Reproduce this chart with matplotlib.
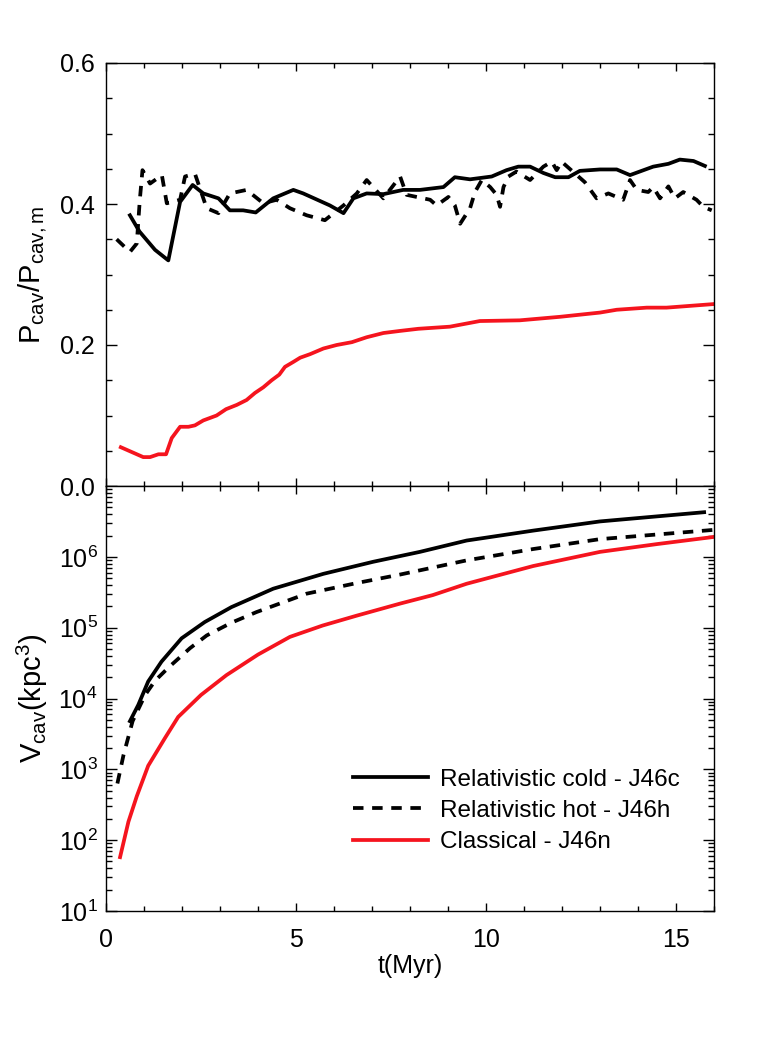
import numpy as np
import matplotlib
matplotlib.use("Agg")
import matplotlib.pyplot as plt
from matplotlib.ticker import MultipleLocator, LogLocator, NullFormatter, FixedLocator

plt.rcParams['font.family'] = ['Liberation Sans', 'DejaVu Sans']
plt.rcParams['mathtext.fontset'] = 'custom'
plt.rcParams['mathtext.rm'] = 'Liberation Sans'
plt.rcParams['mathtext.it'] = 'Liberation Sans:italic'
plt.rcParams['mathtext.bf'] = 'Liberation Sans:bold'

# --- pressure ratio (top panel) ---
t_cold_p = [0.63, 0.88, 1.29, 1.64, 1.95, 2.28, 2.56, 2.96, 3.26, 3.61, 3.94, 4.40, 4.93, 5.19,
            5.89, 6.25, 6.51, 6.86, 7.30, 7.82, 8.26, 8.88, 9.18, 9.58, 10.15, 10.54, 10.85,
            11.16, 11.51, 11.82, 12.17, 12.47, 13.0, 13.44, 13.79, 14.40, 14.80, 15.10, 15.46, 15.76]
p_cold = [0.384, 0.361, 0.335, 0.320, 0.403, 0.427, 0.415, 0.408, 0.391, 0.391, 0.388, 0.408,
          0.420, 0.415, 0.398, 0.387, 0.408, 0.415, 0.414, 0.420, 0.420, 0.424, 0.438, 0.435,
          0.439, 0.448, 0.453, 0.453, 0.444, 0.438, 0.438, 0.447, 0.449, 0.449, 0.441, 0.453,
          0.457, 0.463, 0.461, 0.454]

t_hot_p = [0.28, 0.63, 0.81, 0.89, 0.96, 1.16, 1.47, 1.60, 1.95, 2.08, 2.34, 2.65, 2.96, 3.26,
           3.70, 4.14, 4.49, 4.84, 5.28, 5.76, 6.25, 6.60, 6.86, 7.30, 7.74, 7.91, 8.53, 8.70,
           9.01, 9.18, 9.32, 9.58, 9.71, 9.89, 10.11, 10.28, 10.37, 10.46, 10.59, 10.80, 11.16,
           11.51, 11.73, 11.86, 11.99, 12.6, 12.91, 13.22, 13.61, 13.79, 13.97, 14.27, 14.40,
           14.58, 14.80, 14.97, 15.19, 15.54, 15.72, 15.94]
p_hot = [0.350, 0.332, 0.344, 0.406, 0.448, 0.429, 0.441, 0.401, 0.406, 0.439, 0.443, 0.394,
         0.387, 0.415, 0.420, 0.401, 0.406, 0.394, 0.384, 0.377, 0.398, 0.415, 0.434, 0.408,
         0.439, 0.413, 0.406, 0.398, 0.410, 0.398, 0.372, 0.394, 0.417, 0.434, 0.424, 0.413,
         0.396, 0.424, 0.439, 0.446, 0.434, 0.453, 0.460, 0.448, 0.460, 0.431, 0.408, 0.415,
         0.406, 0.434, 0.420, 0.417, 0.424, 0.408, 0.425, 0.408, 0.417, 0.406, 0.396, 0.391]

t_cls_p = [0.39, 0.98, 1.16, 1.38, 1.58, 1.73, 1.95, 2.17, 2.34, 2.56, 2.91, 3.16, 3.44, 3.70,
           3.92, 4.14, 4.36, 4.56, 4.71, 4.93, 5.11, 5.37, 5.72, 6.07, 6.47, 6.86, 7.30, 7.74,
           8.22, 9.05, 9.84, 10.89, 11.95, 13.0, 13.44, 14.23, 14.75, 15.98]
p_cls = [0.055, 0.041, 0.041, 0.045, 0.045, 0.068, 0.084, 0.084, 0.086, 0.093, 0.100, 0.109,
         0.115, 0.122, 0.132, 0.140, 0.150, 0.158, 0.169, 0.176, 0.182, 0.187, 0.195, 0.200,
         0.204, 0.211, 0.217, 0.220, 0.223, 0.226, 0.234, 0.235, 0.240, 0.246, 0.250, 0.253,
         0.253, 0.258]

# --- cavity volume (bottom panel), log10 kpc^3 ---
t_cold_v = [0.63, 0.85, 1.11, 1.46, 1.99, 2.6, 3.3, 4.40, 5.72, 7.03, 8.26, 9.49, 11.24,
            13.0, 15.74]
logv_cold = [3.68, 3.91, 4.24, 4.52, 4.85, 5.08, 5.29, 5.55, 5.76, 5.93, 6.07, 6.23, 6.37,
             6.50, 6.63]

t_hot_v = [0.30, 0.46, 0.70, 1.03, 1.29, 1.65, 2.21, 2.65, 3.3, 3.96, 5.28, 6.60, 7.74, 9.49,
           11.24, 13.0, 15.98]
logv_hot = [2.80, 3.20, 3.68, 4.05, 4.25, 4.44, 4.71, 4.89, 5.07, 5.22, 5.48, 5.63, 5.75,
            5.95, 6.11, 6.25, 6.38]

t_cls_v = [0.37, 0.59, 0.81, 1.11, 1.55, 1.90, 2.5, 3.17, 4.0, 4.84, 5.7, 6.6, 7.74, 8.6,
           9.49, 11.24, 13.0, 14.5, 15.98]
logv_cls = [1.76, 2.26, 2.62, 3.05, 3.44, 3.74, 4.05, 4.33, 4.62, 4.87, 5.03, 5.17, 5.34,
            5.46, 5.62, 5.87, 6.07, 6.18, 6.28]

labels = ['Relativistic cold - J46c', 'Relativistic hot - J46h', 'Classical - J46n']
red = '#f5141e'
lw = 2.7
dash = (2.8, 2.3)

fig = plt.figure(figsize=(7.81, 10.40), dpi=100)
ax1 = fig.add_axes([106/781, 1 - 486/1040, 608/781, 423/1040])
ax2 = fig.add_axes([106/781, 1 - 911/1040, 608/781, 425/1040])

ax1.plot(t_cold_p, p_cold, color='k', lw=lw)
ax1.plot(t_hot_p, p_hot, color='k', lw=lw, dashes=dash)
ax1.plot(t_cls_p, p_cls, color=red, lw=lw)

ax2.plot(t_cold_v, 10**np.array(logv_cold), color='k', lw=lw, label=labels[0])
ax2.plot(t_hot_v, 10**np.array(logv_hot), color='k', lw=lw, dashes=dash, label=labels[1])
ax2.plot(t_cls_v, 10**np.array(logv_cls), color=red, lw=lw, label=labels[2])

for ax in (ax1, ax2):
    ax.set_xlim(0, 16)
    ax.xaxis.set_major_locator(MultipleLocator(5))
    ax.xaxis.set_minor_locator(MultipleLocator(1))
    ax.tick_params(which='both', direction='in', top=True, right=True, labelsize=18, width=1)
    ax.tick_params(axis='x', which='major', length=6)
    ax.tick_params(axis='x', which='minor', length=3.5)
    ax.tick_params(axis='y', which='major', length=8)
    ax.tick_params(axis='y', which='minor', length=4)
    for s in ax.spines.values():
        s.set_linewidth(1)

ax1.set_ylim(0, 0.6)
ax1.yaxis.set_major_locator(FixedLocator([0.0, 0.2, 0.4, 0.6]))
ax1.yaxis.set_minor_locator(MultipleLocator(0.05))
ax1.set_yticklabels(['0.0', '0.2', '0.4', '0.6'])
ax1.tick_params(axis='x', labelbottom=False)
ax1.tick_params(axis='y', pad=8)
ax1.set_ylabel(r'P$_{\rm cav}$/P$_{\rm cav,m}$', fontsize=21, labelpad=8)

ax2.set_yscale('log')
ax2.set_ylim(10, 1e7)
ax2.yaxis.set_major_locator(FixedLocator([1e1, 1e2, 1e3, 1e4, 1e5, 1e6]))
ax2.set_yticklabels([r'10$^{%d}$' % k for k in range(1, 7)])
ax2.yaxis.set_minor_locator(LogLocator(base=10, subs=np.arange(2, 10), numticks=20))
ax2.yaxis.set_minor_formatter(NullFormatter())
ax2.tick_params(axis='y', pad=6)
ax2.tick_params(axis='x', pad=12)
ax2.set_ylabel(r'V$_{\rm cav}$(kpc$^3$)', fontsize=21, labelpad=6)
ax2.set_xlabel('t(Myr)', fontsize=18, labelpad=2)

leg = ax2.legend(loc='upper left', bbox_to_anchor=(0.406, 0.335), frameon=False, fontsize=17.5,
                 handlelength=3.1, handletextpad=0.5, labelspacing=0.38, borderpad=0,
                 borderaxespad=0)

fig.savefig('out.png', dpi=100)
